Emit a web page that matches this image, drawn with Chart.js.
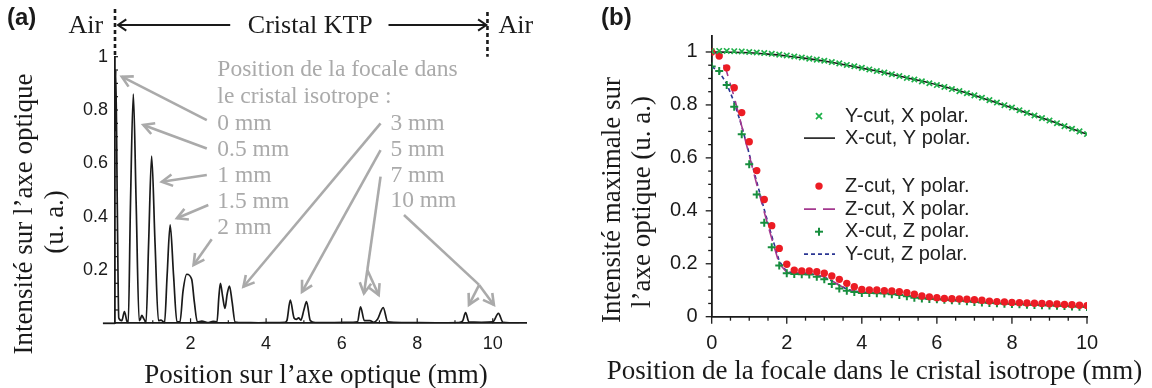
<!DOCTYPE html>
<html>
<head>
<meta charset="utf-8">
<script src="https://cdn.jsdelivr.net/npm/chart.js@4.4.0/dist/chart.umd.min.js"></script>
<style>
  html, body { margin: 0; padding: 0; background: #fff; }
  #wrap { position: relative; width: 1152px; height: 388px; overflow: hidden; }
  #boxA { position: absolute; left: 0; top: 0; }
  #boxB { position: absolute; left: 560px; top: 0; }
</style>
</head>
<body>
<div id="wrap">
  <div id="boxA"><canvas id="chartA" width="560" height="388"></canvas></div>
  <div id="boxB"><canvas id="chartB" width="592" height="388"></canvas></div>
</div>
<script>
/* ===== panel (a) : intensity along the optical axis ===== */
const posA = [0, 0.02, 0.06, 0.1, 0.18, 0.25, 0.31,
  0.35, 0.41, 0.485, 0.56, 0.64, 0.67, 0.71, 0.75, 0.79,
  0.82, 0.89, 0.97, 1.06, 1.15, 1.22, 1.28,
  1.31, 1.38, 1.46, 1.55, 1.64,
  1.72, 1.8, 1.9, 2.03, 2.1, 2.18, 2.3, 2.45, 2.6,
  2.7, 2.75, 2.79, 2.85, 2.91, 2.97, 3.03, 3.1, 3.18,
  3.4, 3.8, 4.2, 4.5,
  4.55, 4.64, 4.74, 4.8, 4.86, 4.92, 5.0, 5.07, 5.17, 5.3,
  5.8, 6.3,
  6.42, 6.5, 6.6, 6.75, 6.85, 6.95, 7.1, 7.22,
  7.6, 8.5, 9.1,
  9.2, 9.28, 9.37, 9.7, 10.0, 10.15, 10.27, 10.7];
const intA = [0.72, 0.95, 0.45, 0.02, 0.01, 0.044, 0.01,
  0.0, 0.45, 0.86, 0.45, 0.01, 0.015, 0.03, 0.02, 0.01,
  0.0, 0.3, 0.627, 0.3, 0.01, 0.012, 0.005,
  0.0, 0.18, 0.369, 0.18, 0.005,
  0.005, 0.12, 0.184, 0.165, 0.08, 0.005, 0.008, 0.003, 0.007,
  0.005, 0.1, 0.15, 0.1, 0.056, 0.11, 0.14, 0.08, 0.005,
  0.003, 0.002, 0.003, 0.004,
  0.01, 0.087, 0.02, 0.015, 0.02, 0.012, 0.05, 0.081, 0.01, 0.003,
  0.003, 0.004,
  0.006, 0.062, 0.01, 0.01, 0.004, 0.015, 0.059, 0.005,
  0.003, 0.002, 0.003,
  0.008, 0.04, 0.005, 0.004, 0.005, 0.037, 0.004, 0.002];
const xTicksA = [2, 4, 6, 8, 10];
const yTicksA = [0.2, 0.4, 0.6, 0.8, 1];
const focalLeft  = ['0 mm', '0.5 mm', '1 mm', '1.5 mm', '2 mm'];
const focalRight = ['3 mm', '5 mm', '7 mm', '10 mm'];

/* ===== panel (b) : max intensity vs focal position ===== */
const focalB = [0, 0.2, 0.4, 0.6, 0.8, 1, 1.2, 1.4, 1.6, 1.8, 2, 2.2, 2.4, 2.6, 2.8, 3, 3.2, 3.4, 3.6, 3.8,
  4, 4.2, 4.4, 4.6, 4.8, 5, 5.2, 5.4, 5.6, 5.8, 6, 6.2, 6.4, 6.6, 6.8, 7, 7.2, 7.4, 7.6, 7.8,
  8, 8.2, 8.4, 8.6, 8.8, 9, 9.2, 9.4, 9.6, 9.8, 10];
const ycutX = [1.003, 1.004, 1.004, 1.003, 1.002, 1.0, 0.998, 0.996, 0.993, 0.99, 0.987, 0.983, 0.979, 0.975, 0.971,
  0.967, 0.962, 0.957, 0.951, 0.946, 0.94, 0.934, 0.928, 0.922, 0.916, 0.909, 0.902, 0.896, 0.889, 0.882,
  0.875, 0.868, 0.86, 0.852, 0.844, 0.836, 0.827, 0.818, 0.809, 0.799, 0.79, 0.78, 0.77, 0.76, 0.75,
  0.741, 0.731, 0.72, 0.71, 0.7, 0.69];
const focalLine = [0, 0.5, 1, 1.5, 2, 2.5, 3, 3.5, 4, 4.5, 5, 5.5, 6, 6.5, 7, 7.5, 8, 8.5, 9, 9.5, 10];
const xcutY = [1.0, 0.999, 0.997, 0.992, 0.985, 0.976, 0.966, 0.953, 0.939, 0.925, 0.909, 0.893, 0.876,
  0.857, 0.836, 0.813, 0.789, 0.765, 0.741, 0.715, 0.689];
const zcutY = [1.0, 0.985, 0.94, 0.865, 0.771, 0.661, 0.552, 0.443, 0.344, 0.258, 0.198, 0.176, 0.173, 0.173, 0.17,
  0.164, 0.154, 0.141, 0.126, 0.113, 0.103, 0.101, 0.101, 0.098, 0.097, 0.094, 0.091, 0.085, 0.078, 0.075,
  0.072, 0.069, 0.068, 0.067, 0.066, 0.064, 0.062, 0.059, 0.057, 0.056, 0.054, 0.053, 0.052, 0.051, 0.05,
  0.049, 0.048, 0.046, 0.045, 0.043, 0.042];
const zcutX = [1.0, 0.99, 0.925, 0.83, 0.72, 0.61, 0.5, 0.395, 0.295, 0.2, 0.168, 0.166, 0.165, 0.163, 0.158,
  0.15, 0.136, 0.119, 0.104, 0.096, 0.093, 0.092, 0.091, 0.09, 0.088, 0.085, 0.08, 0.075, 0.071, 0.069,
  0.067, 0.065, 0.063, 0.061, 0.059, 0.057, 0.055, 0.054, 0.052, 0.051, 0.049, 0.048, 0.047, 0.046, 0.045,
  0.044, 0.043, 0.042, 0.041, 0.04, 0.039];
const xcutZ = [0.945, 0.928, 0.875, 0.793, 0.689, 0.576, 0.462, 0.355, 0.262, 0.193, 0.164, 0.161, 0.16, 0.159, 0.151,
  0.141, 0.124, 0.107, 0.098, 0.093, 0.09, 0.09, 0.089, 0.088, 0.085, 0.082, 0.077, 0.072, 0.069, 0.067,
  0.066, 0.064, 0.062, 0.06, 0.058, 0.056, 0.054, 0.052, 0.051, 0.049, 0.048, 0.047, 0.045, 0.044, 0.043,
  0.042, 0.041, 0.04, 0.039, 0.038, 0.037];
const ycutZ = [0.945, 0.925, 0.88, 0.81, 0.72, 0.615, 0.51, 0.405, 0.305, 0.21, 0.17, 0.166, 0.165, 0.163, 0.158,
  0.15, 0.136, 0.119, 0.104, 0.096, 0.093, 0.092, 0.091, 0.09, 0.088, 0.085, 0.08, 0.075, 0.071, 0.069,
  0.067, 0.065, 0.063, 0.061, 0.059, 0.057, 0.055, 0.054, 0.052, 0.051, 0.049, 0.048, 0.047, 0.046, 0.045,
  0.044, 0.043, 0.042, 0.041, 0.04, 0.039];
const xTicksB = [0, 2, 4, 6, 8, 10];
const yTicksB = [0, 0.2, 0.4, 0.6, 0.8, 1];

const SERIF = '"Liberation Serif", "Times New Roman", serif';
const SANS  = '"Liberation Sans", Arial, sans-serif';
const INK   = '#1a1a1a';
const GRAY  = '#aaaaaa';
const COL = { ycutX:'#1fb04a', xcutZ:'#178e3e', zcutY:'#ec1c24', zcutX:'#a4388f', ycutZ:'#2a3592' };

const pts = (xs, ys) => xs.map((x, i) => ({x, y: ys[i]}));

/* ---------- helpers ---------- */
function line(ctx, x1, y1, x2, y2) { ctx.beginPath(); ctx.moveTo(x1, y1); ctx.lineTo(x2, y2); ctx.stroke(); }
function head(ctx, fx, fy, tx, ty, len, ang) {
  const a = Math.atan2(ty - fy, tx - fx);
  ctx.beginPath();
  ctx.moveTo(tx - len*Math.cos(a - ang), ty - len*Math.sin(a - ang));
  ctx.lineTo(tx, ty);
  ctx.lineTo(tx - len*Math.cos(a + ang), ty - len*Math.sin(a + ang));
  ctx.stroke();
}
function text(ctx, s, x, y, font, color, align) {
  ctx.font = font; ctx.fillStyle = color; ctx.textAlign = align || 'center'; ctx.textBaseline = 'middle';
  ctx.fillText(s, x, y);
}
function vtext(ctx, s, x, y, font, color) {
  ctx.save(); ctx.translate(x, y); ctx.rotate(-Math.PI/2);
  text(ctx, s, 0, 0, font, color); ctx.restore();
}

/* ---------- panel (a) decorations ---------- */
const arrowsA = [
  {from:[2.43,0.762], to:[[0.18,0.925]]},
  {from:[2.43,0.656], to:[[0.75,0.744]]},
  {from:[2.43,0.556], to:[[1.24,0.531]]},
  {from:[2.47,0.444], to:[[1.64,0.394]]},
  {from:[2.56,0.315], to:[[2.08,0.219]]},
  {from:[7.03,0.75],  to:[[3.40,0.137]]},
  {from:[7.03,0.65],  to:[[4.95,0.118]]},
  {from:[7.03,0.55],  via:[6.68,0.20], to:[[6.59,0.112],[6.98,0.106]]},
  {from:[7.65,0.406], via:[9.64,0.144], to:[[9.37,0.069],[10.03,0.069]]}
];

const decoA = {
  id: 'decoA',
  afterDraw(chart) {
    const ctx = chart.ctx, a = chart.chartArea;
    const X = v => chart.scales.x.getPixelForValue(v);
    const Y = v => chart.scales.y.getPixelForValue(v);
    ctx.save();
    ctx.strokeStyle = INK; ctx.lineWidth = 1.8;
    line(ctx, X(-0.32), a.bottom, a.left, a.bottom);
    // ticks
    ctx.lineWidth = 1.2;
    for (let v = 0.05; v < 1.001; v += 0.05) line(ctx, a.left, Y(v), a.left + 3, Y(v));
    for (let v = 1; v <= 10; v += 1) line(ctx, X(v), a.bottom, X(v), a.bottom - (v % 2 ? 3 : 5));
    // air / crystal boundaries
    ctx.lineWidth = 2.6; ctx.setLineDash([4, 3]);
    line(ctx, X(0), 9, X(0), a.top);
    line(ctx, X(9.86), 12, X(9.86), a.top);
    ctx.setLineDash([]);
    ctx.lineWidth = 2;
    line(ctx, X(3.05), 25, X(0.08), 25); head(ctx, X(3.05), 25, X(0.08), 25, 10, 0.6);
    line(ctx, X(7.24), 25, X(9.83), 25); head(ctx, X(7.24), 25, X(9.83), 25, 10, 0.6);
    text(ctx, 'Air', X(-0.77), 26, '26px ' + SERIF, INK);
    text(ctx, 'Cristal KTP', X(5.17), 26, '26px ' + SERIF, INK);
    text(ctx, 'Air', X(10.61), 26, '26px ' + SERIF, INK);
    // gray annotations
    const gf = '23.5px ' + SERIF;
    text(ctx, 'Position de la focale dans', X(2.71), Y(0.95), gf, GRAY, 'left');
    text(ctx, 'le cristal isotrope :', X(2.71), Y(0.85), gf, GRAY, 'left');
    const yl = [0.749, 0.65, 0.552, 0.455, 0.357], yr = [0.75, 0.652, 0.553, 0.46];
    focalLeft.forEach((s, i) => text(ctx, s, X(2.71), Y(yl[i]), gf, GRAY, 'left'));
    focalRight.forEach((s, i) => text(ctx, s, X(7.29), Y(yr[i]), gf, GRAY, 'left'));
    ctx.strokeStyle = GRAY; ctx.lineWidth = 2.6;
    arrowsA.forEach(ar => {
      let sx = X(ar.from[0]), sy = Y(ar.from[1]);
      if (ar.via) { line(ctx, sx, sy, X(ar.via[0]), Y(ar.via[1])); sx = X(ar.via[0]); sy = Y(ar.via[1]); }
      ar.to.forEach(t => { line(ctx, sx, sy, X(t[0]), Y(t[1])); head(ctx, sx, sy, X(t[0]), Y(t[1]), 12, 0.5); });
    });
    // titles
    text(ctx, 'Position sur l\u2019axe optique (mm)', 316, 376, '27px ' + SERIF, INK);
    vtext(ctx, 'Intensit\u00e9 sur l\u2019axe optique', 25, 214, '27px ' + SERIF, INK);
    vtext(ctx, '(u. a.)', 56, 222, '27px ' + SERIF, INK);
    text(ctx, '(a)', 7, 18, 'bold 24px ' + SANS, INK, 'left');
    ctx.restore();
  }
};

new Chart(document.getElementById('chartA'), {
  type: 'line',
  data: { datasets: [{
    data: pts(posA, intA), borderColor: INK, borderWidth: 1.7, pointRadius: 0,
    cubicInterpolationMode: 'monotone', fill: false
  }]},
  options: {
    responsive: false, animation: false,
    layout: { padding: { left: 0, top: 56.7, right: 34, bottom: 0 } },
    plugins: { legend: { display: false }, tooltip: { enabled: false } },
    scales: {
      x: { type: 'linear', min: 0, max: 10.88,
        afterFit: s => { s.height = 64.7; },
        afterBuildTicks: s => { s.ticks = xTicksA.map(v => ({value: v})); },
        grid: { display: false, drawTicks: false },
        border: { display: true, color: INK, width: 1.8 },
        ticks: { padding: 10, color: INK, font: { family: SANS, size: 18 }, maxRotation: 0, callback: v => String(v) } },
      y: { min: 0, max: 1,
        afterFit: s => { s.width = 115; },
        afterBuildTicks: s => { s.ticks = yTicksA.map(v => ({value: v})); },
        grid: { display: false, drawTicks: false },
        border: { display: true, color: INK, width: 1.8 },
        ticks: { padding: 7, color: INK, font: { family: SANS, size: 18 }, callback: v => String(v) } }
    }
  },
  plugins: [decoA]
});

/* ---------- panel (b) ---------- */
const legendB = [
  {label:'Y-cut, X polar.', kind:'crossRot', color:COL.ycutX, dy:80},
  {label:'X-cut, Y polar.', kind:'solid',    color:INK,       dy:102},
  {label:'Z-cut, Y polar.', kind:'circle',   color:COL.zcutY, dy:150},
  {label:'Z-cut, X polar.', kind:'long',     color:COL.zcutX, dy:173},
  {label:'X-cut, Z polar.', kind:'cross',    color:COL.xcutZ, dy:195.6},
  {label:'Y-cut, Z polar.', kind:'short',    color:COL.ycutZ, dy:218}
];

const decoB = {
  id: 'decoB',
  afterDraw(chart) {
    const ctx = chart.ctx, a = chart.chartArea;
    const X = v => chart.scales.x.getPixelForValue(v);
    const Y = v => chart.scales.y.getPixelForValue(v);
    ctx.save();
    ctx.strokeStyle = INK; ctx.lineWidth = 1.3;
    for (let v = 0; v < 1.001; v += 0.05) {
      const major = Math.abs(v*5 - Math.round(v*5)) < 1e-6;
      line(ctx, a.left, Y(v), a.left - (major ? 6 : 3.5), Y(v));
    }
    for (let v = 0; v <= 10.001; v += 0.5) {
      const major = Math.abs(v/2 - Math.round(v/2)) < 1e-6;
      line(ctx, X(v), a.bottom, X(v), a.bottom + (major ? 7 : 4));
    }
    // legend
    const sx = a.left + 107.3, tx = a.left + 133.3;
    legendB.forEach(it => {
      const y = a.top + it.dy;
      ctx.strokeStyle = it.color; ctx.fillStyle = it.color; ctx.setLineDash([]);
      if (it.kind === 'crossRot') { ctx.lineWidth = 1.7; line(ctx, sx-3, y-3, sx+3, y+3); line(ctx, sx-3, y+3, sx+3, y-3); }
      else if (it.kind === 'cross') { ctx.lineWidth = 2; line(ctx, sx-4, y, sx+4, y); line(ctx, sx, y-4, sx, y+4); }
      else if (it.kind === 'circle') { ctx.beginPath(); ctx.arc(sx, y, 3.7, 0, Math.PI*2); ctx.fill(); }
      else {
        ctx.lineWidth = it.kind === 'solid' ? 1.6 : 1.8;
        if (it.kind === 'long') ctx.setLineDash([12, 7]);
        if (it.kind === 'short') ctx.setLineDash([4, 3]);
        line(ctx, sx - 15, y, sx + 16, y);
        ctx.setLineDash([]);
      }
      text(ctx, it.label, tx, y, '20px ' + SANS, '#222', 'left');
    });
    // titles
    text(ctx, 'Position de la focale dans le cristal isotrope (mm)', 314.5, 372, '27px ' + SERIF, INK);
    vtext(ctx, 'Intensit\u00e9 maximale sur', 53, 200, '27px ' + SERIF, INK);
    vtext(ctx, 'l\u2019axe optique (u. a.)', 83, 202, '27px ' + SERIF, INK);
    text(ctx, '(b)', 41, 18, 'bold 24px ' + SANS, INK, 'left');
    ctx.restore();
  }
};

new Chart(document.getElementById('chartB'), {
  type: 'line',
  data: { datasets: [
    { label: 'Y-cut, X polar.', data: pts(focalB, ycutX), showLine: false, pointStyle: 'crossRot',
      pointRadius: 3.8, pointBorderWidth: 1.7, pointBorderColor: COL.ycutX, pointBackgroundColor: COL.ycutX },
    { label: 'Z-cut, Y polar.', data: pts(focalB, zcutY), showLine: false, pointStyle: 'circle',
      pointRadius: 3.7, pointBorderWidth: 0, pointBackgroundColor: COL.zcutY },
    { label: 'X-cut, Z polar.', data: pts(focalB, xcutZ), showLine: false, pointStyle: 'cross',
      pointRadius: 4, pointBorderWidth: 2, pointBorderColor: COL.xcutZ },
    { label: 'X-cut, Y polar.', data: pts(focalLine, xcutY), borderColor: INK, borderWidth: 1.6,
      pointRadius: 0, tension: 0.3, fill: false },
    { label: 'Z-cut, X polar.', data: pts(focalB, zcutX), borderColor: COL.zcutX, borderWidth: 1.6,
      borderDash: [12, 7], pointRadius: 0, tension: 0, fill: false },
    { label: 'Y-cut, Z polar.', data: pts(focalB, ycutZ), borderColor: COL.ycutZ, borderWidth: 1.6,
      borderDash: [4, 3], pointRadius: 0, tension: 0, fill: false }
  ]},
  options: {
    responsive: false, animation: false,
    layout: { padding: { left: 0, top: 36.1, right: 65, bottom: 0 } },
    plugins: { legend: { display: false }, tooltip: { enabled: false } },
    scales: {
      x: { type: 'linear', min: 0, max: 10,
        afterFit: s => { s.height = 71.3; },
        afterBuildTicks: s => { s.ticks = xTicksB.map(v => ({value: v})); },
        grid: { display: false, drawTicks: false },
        border: { display: true, color: INK, width: 1.8 },
        ticks: { padding: 15, color: INK, font: { family: SANS, size: 20 }, maxRotation: 0, callback: v => String(v) } },
      y: { min: 0, max: 1.06,
        afterFit: s => { s.width = 151.7; },
        afterBuildTicks: s => { s.ticks = yTicksB.map(v => ({value: v})); },
        grid: { display: false, drawTicks: false },
        border: { display: true, color: INK, width: 1.8 },
        ticks: { padding: 14, color: INK, font: { family: SANS, size: 20 }, callback: v => String(v) } }
    }
  },
  plugins: [decoB]
});
</script>
</body>
</html>
